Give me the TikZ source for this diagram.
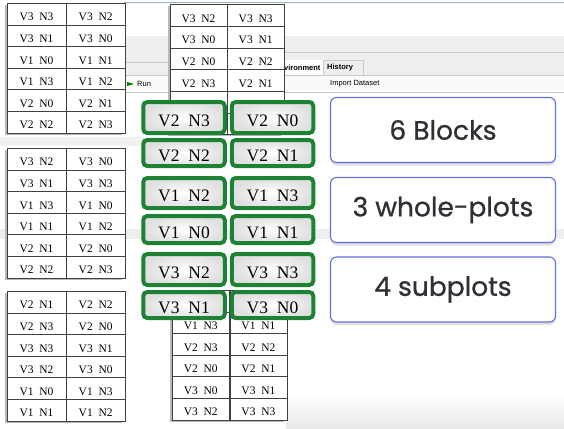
\documentclass[tikz,border=0pt]{standalone}
\usepackage{fontspec}
\setmainfont{Liberation Serif}
\newfontfamily\labelfont[FakeBold=0.8]{Poppins}
\newfontfamily\uifont{Liberation Sans}
\usepackage{tikz}
\usetikzlibrary{shadows}

\definecolor{plotgreen}{RGB}{30,130,52}
\definecolor{labelblue}{RGB}{95,112,222}
\definecolor{labeltext}{RGB}{45,48,52}
\definecolor{uigray}{RGB}{238,238,238}
\definecolor{uiline}{RGB}{200,200,200}
\definecolor{topline}{RGB}{150,175,215}

\tikzset{
  cell/.style={draw=black!75, fill=white, line width=0.6pt, anchor=north west, inner sep=0pt,
    minimum height=21.6pt, text height=13.5pt, text depth=0pt,
    font=\fontsize{11.5}{12}\selectfont},
  plotbox/.style={draw=plotgreen, line width=4pt, rounded corners=4pt,
    inner color=white, outer color=gray!25, minimum width=81.5pt, inner sep=0pt,
    text height=17.5pt, text depth=0pt, font=\fontsize{17.5}{18}\selectfont},
  labelbox/.style={draw=labelblue, line width=1.1pt, rounded corners=6pt, fill=white,
    minimum width=225pt, minimum height=65pt,
    drop shadow={shadow xshift=0pt, shadow yshift=-3pt, opacity=0.25},
    font=\labelfont\fontsize{26.5}{28}\selectfont, text=labeltext},
  uitext/.style={font=\uifont\fontsize{7.5}{8}\selectfont, inner sep=0pt, anchor=west}
}

% name, x, y, column width, rows
\newcommand\plottable[5]{
  \fill[gray!55] ({#2-2},{#3+2}) rectangle ++({2*#4},{6*21.6});
  \foreach \a/\b [count=\i] in {#5}{
    \node[cell, minimum width=#4 pt] (#1-\i-a) at (#2,{#3+(\i-1)*21.6}) {\a};
    \node[cell, minimum width=#4 pt] (#1-\i-b) at (#1-\i-a.north east) {\b};
  }
}

\begin{document}
\begin{tikzpicture}[x=1pt,y=-1pt]
\useasboundingbox (0,0) rectangle (564,428);
\fill[white] (0,0) rectangle (564,428);

% screen behind
\draw[topline, line width=1pt] (124,3) -- (564,3);
\fill[uigray] (124,36) rectangle (564,75);
\draw[uiline] (124,62) -- (170,62);
\draw[uiline, line width=1pt] (283,53) -- (564,53);
\fill[white] (283,60) rectangle (323,75);
\draw[uiline] (323,60) rectangle (363,75);
\draw[uiline] (124,75) -- (564,75);
\fill[gray!4] (124,76) rectangle (564,91);
\draw[uiline] (124,92) -- (564,92);
\node[uitext, font=\uifont\bfseries\fontsize{7.5}{8}\selectfont] (envtab) at (284,68) {vironment};
\node[uitext, font=\uifont\bfseries\fontsize{7.5}{8}\selectfont] (histtab) at (327,68) {History};
\node[uitext] (importset) at (330,84) {Import Dataset};
\node[uitext] (runbtn) at (137,84) {Run};
\fill[green!50!black] (127,82) -- (134,84) -- (127,86) -- cycle;
\fill[gray!10] (0,137) rectangle (170,146);
\fill[uigray] (0,229) rectangle (564,239);
\shade[top color=white, bottom color=gray!18] (286,395) rectangle (564,428);

% tables
\plottable{ta}{7}{3}{58.5}{V3~~N3/V3~~N2, V3~~N1/V3~~N0, V1~~N0/V1~~N1, V1~~N3/V1~~N2, V2~~N0/V2~~N1, V2~~N2/V2~~N3}
\plottable{tb}{170}{4.5}{56.5}{V3~~N2/V3~~N3, V3~~N0/V3~~N1, V2~~N0/V2~~N2, V2~~N3/V2~~N1, {}/{}, {}/{}}
\plottable{tc}{7}{148}{58.5}{V3~~N2/V3~~N0, V3~~N1/V3~~N3, V1~~N3/V1~~N0, V1~~N1/V1~~N2, V2~~N1/V2~~N0, V2~~N2/V2~~N3}
\plottable{td}{7}{291}{58.5}{V2~~N1/V2~~N2, V2~~N3/V2~~N0, V3~~N3/V3~~N1, V3~~N2/V3~~N0, V1~~N0/V1~~N3, V1~~N1/V1~~N2}
\plottable{te}{172}{290}{57}{{}/{}, V1~~N3/V1~~N1, V2~~N3/V2~~N2, V2~~N0/V2~~N1, V3~~N0/V3~~N1, V3~~N2/V3~~N3}

% green blocks
\foreach \y/\h/\a/\b [count=\i] in {117.5/31/V2~~N3/V2~~N0, 153/26/V2~~N2/V2~~N1,
    193/30/V1~~N2/V1~~N3, 229.5/27/V1~~N0/V1~~N1,
    269.5/31/V3~~N2/V3~~N3, 305/26/V3~~N1/V3~~N0}{
  \node[plotbox, minimum height=\h pt] (blk-\i-a) at (184,\y) {\a};
  \node[plotbox, minimum height=\h pt] (blk-\i-b) at (272.5,\y) {\b};
}

% labels
\node[labelbox] (blocks) at (443,130) {6 Blocks};
\node[labelbox] (wholeplots) at (443,210) {3 whole-plots};
\node[labelbox] (subplots) at (443,289.5) {4 subplots};
\end{tikzpicture}
\end{document}
